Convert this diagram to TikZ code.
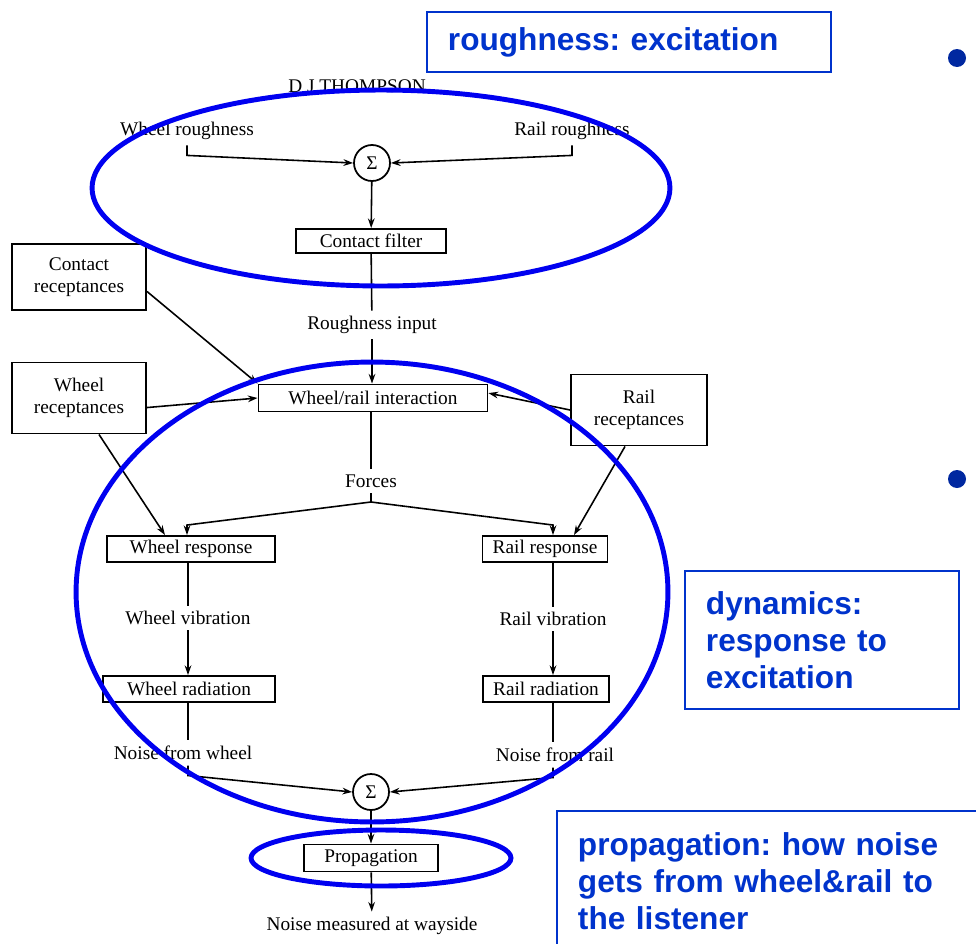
\documentclass[tikz,border=0pt]{standalone}
\usepackage{fontspec}
\setmainfont{Liberation Serif}
\newfontfamily\slidefont{Liberation Sans}
\usetikzlibrary{arrows.meta}
\definecolor{slideblue}{RGB}{0,51,204}
\definecolor{ringblue}{RGB}{0,0,240}
\definecolor{dotblue}{RGB}{0,40,160}
\frenchspacing

\begin{document}
\begin{tikzpicture}[x=0.02cm,y=-0.02cm,
  block/.style={draw,line width=1.1pt,inner sep=0pt,align=center,font=\fontsize{11}{12.5}\selectfont},
  lbl/.style={inner sep=3pt,font=\fontsize{11}{12.5}\selectfont},
  sum/.style={circle,draw,line width=1pt,minimum size=0.72cm,inner sep=0pt,font=\fontsize{11}{12}\selectfont},
  arr/.style={-{Stealth[length=5.5pt,width=3.8pt]},line width=0.9pt},
  link/.style={line width=0.9pt},
  ring/.style={draw=ringblue,line width=2.8pt},
  note/.style={draw=slideblue,line width=1.1pt,text=slideblue,align=left,inner xsep=0.42cm,anchor=north west,font=\slidefont\bfseries\fontsize{18}{21}\selectfont}]

\useasboundingbox (0,0) rectangle (976,943);

\node[lbl] (author) at (357,86) {D J THOMPSON};
\node[lbl] (wrough) at (187,131) {Wheel roughness};
\node[lbl] (rrough) at (572,131) {Rail roughness};
\node[sum] (sum1) at (372,163) {Σ};
\node[block,minimum width=3cm,minimum height=0.48cm] (cfilter) at (371,241) {Contact filter};
\node[block,minimum width=2.68cm,minimum height=1.32cm] (crec) at (79,277) {Contact\\receptances};
\node[lbl] (rin) at (372,325) {Roughness input};
\node[block,minimum width=2.68cm,minimum height=1.42cm] (wrec) at (79,398) {Wheel\\receptances};
\node[block,minimum width=4.58cm,minimum height=0.54cm] (inter) at (373,398) {Wheel/rail interaction};
\node[block,minimum width=2.72cm,minimum height=1.42cm] (rrec) at (639,410) {Rail\\receptances};
\node[lbl] (forces) at (371,481) {Forces};
\coordinate (fork) at (371,502);
\node[block,minimum width=3.36cm,minimum height=0.52cm] (wresp) at (191,549) {Wheel response};
\node[block,minimum width=2.5cm,minimum height=0.52cm] (rresp) at (545,549) {Rail response};
\node[lbl] (wvib) at (188,618) {Wheel vibration};
\node[lbl] (rvib) at (553,619) {Rail vibration};
\node[block,minimum width=3.44cm,minimum height=0.52cm] (wrad) at (189,689) {Wheel radiation};
\node[block,minimum width=2.52cm,minimum height=0.52cm] (rrad) at (546,689) {Rail radiation};
\node[lbl] (nwheel) at (183,753) {Noise from wheel};
\node[lbl] (nrail) at (555,755) {Noise from rail};
\node[sum] (sum2) at (371,792) {Σ};
\node[block,minimum width=2.68cm,minimum height=0.54cm] (prop) at (371,858) {Propagation};
\node[lbl] (wayside) at (372,926) {Noise measured at wayside};

\draw[arr] (wrough.south) -- ++(0,10) -- (sum1.west);
\draw[arr] (rrough.south) -- ++(0,10) -- (sum1.east);
\draw[arr] (sum1) -- (cfilter);
\draw[link] (cfilter) -- (rin);
\draw[arr] (rin) -- (inter.north -| rin);
\draw[arr] (crec.-12) -- (inter.north west);
\draw[arr] (wrec.-8) -- (inter.west);
\draw[arr] (rrec.west) -- ([yshift=2.8pt]inter.east);
\draw[link] (inter.south -| forces) -- (forces);
\draw[link] (forces) -- (fork);
\draw[arr] (fork) -- ([xshift=-0.08cm,yshift=0.2cm]wresp.north) -- ([xshift=-0.08cm]wresp.north);
\draw[arr] (fork) -- ([xshift=0.16cm,yshift=0.2cm]rresp.north) -- ([xshift=0.16cm]rresp.north);
\draw[arr] ([xshift=0.4cm]wrec.south) -- ([xshift=-0.52cm]wresp.north);
\draw[arr] ([xshift=-0.28cm]rrec.south) -- ([xshift=0.58cm]rresp.north);
\draw[link] (wresp.south -| wvib) -- (wvib);
\draw[arr] (wvib) -- (wvib |- wrad.north);
\draw[link] (rresp.south -| rvib) -- (rvib);
\draw[arr] (rvib) -- (rvib |- rrad.north);
\draw[link] (wrad.south -| wvib) -- (wvib |- nwheel.north);
\draw[arr] (nwheel.south -| wvib) -- ++(0,10) -- (sum2.west);
\draw[link] (rrad.south -| rvib) -- (rvib |- nrail.north);
\draw[arr] (nrail.south -| rvib) -- ++(0,10) -- (sum2.east);
\draw[arr] (sum2) -- (prop);
\draw[arr] (prop) -- (wayside);

\draw[ring] (381,188) ellipse [x radius=5.78cm, y radius=1.96cm];
\draw[ring] (372,592) ellipse [x radius=5.92cm, y radius=4.6cm];
\draw[ring] (381,858) ellipse [x radius=2.6cm, y radius=0.56cm];

\node[note,text width=7.24cm,minimum height=1.2cm] (excite) at (426,11) {roughness: excitation};
\node[note,text width=4.64cm,minimum height=2.76cm] (dynamics) at (684,570) {dynamics:\\response to\\excitation};
\node[note,text width=8cm,minimum height=2.8cm] (propnote) at (556,810) {propagation: how noise\\gets from wheel\&rail to\\the listener};

\fill[dotblue] (957,58) circle (0.18cm);
\fill[dotblue] (957,479) circle (0.18cm);
\end{tikzpicture}
\end{document}
